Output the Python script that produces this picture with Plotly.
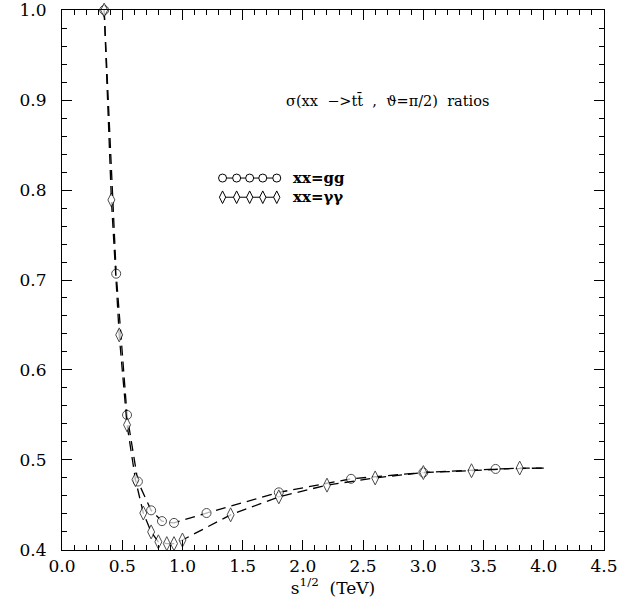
import plotly.graph_objects as go

# gg ratio curve (last point is line end, no marker)
gg_x = [0.35, 0.45, 0.54, 0.63, 0.74, 0.83, 0.93, 1.2, 1.8, 2.4, 3.0, 3.6, 4.0]
gg_y = [1.0, 0.707, 0.55, 0.476, 0.444, 0.432, 0.43, 0.441, 0.464, 0.479, 0.486, 0.490, 0.491]

# gamma-gamma ratio curve
gam_x = [0.35, 0.41, 0.475, 0.54, 0.61, 0.675, 0.74, 0.80, 0.87, 0.93, 1.0,
         1.4, 1.8, 2.2, 2.6, 3.0, 3.4, 3.8, 4.0]
gam_y = [1.0, 0.789, 0.639, 0.539, 0.478, 0.441, 0.42, 0.409, 0.407, 0.407, 0.411,
         0.439, 0.459, 0.472, 0.48, 0.486, 0.488, 0.491, 0.491]

x_ticks = [0.0, 0.5, 1.0, 1.5, 2.0, 2.5, 3.0, 3.5, 4.0, 4.5]
y_ticks = [0.4, 0.5, 0.6, 0.7, 0.8, 0.9, 1.0]

legend_names = ["xx=gg", "xx=γγ"]
title_text = "σ(xx\u00a0\u00a0−>tt\u0304\u00a0\u00a0,\u00a0\u00a0ϑ=π/2)\u00a0\u00a0ratios"

SERIF = "DejaVu Serif"

fig = go.Figure()

def msizes(n, s):
    return [s] * (n - 1) + [0]

fig.add_trace(go.Scatter(
    x=gg_x, y=gg_y, mode="lines+markers",
    line=dict(color="black", width=1.3, dash="10px,6px"),
    marker=dict(symbol="circle", size=msizes(len(gg_x), 9), color="white",
                line=dict(color="black", width=1)),
    showlegend=False, cliponaxis=False, hoverinfo="skip"))

fig.add_trace(go.Scatter(
    x=gam_x, y=gam_y, mode="lines+markers",
    line=dict(color="black", width=1.3, dash="10px,6px"),
    marker=dict(symbol="diamond-tall", size=msizes(len(gam_x), 10), color="white",
                line=dict(color="black", width=1)),
    showlegend=False, cliponaxis=False, hoverinfo="skip"))

# legend samples
leg_x = [1.333, 1.45, 1.558, 1.667, 1.783]
for yy, sym, sz, name in [(0.8133, "circle", 8, legend_names[0]),
                          (0.792, "diamond-tall", 9, legend_names[1])]:
    fig.add_trace(go.Scatter(
        x=leg_x, y=[yy] * len(leg_x), mode="lines+markers",
        line=dict(color="black", width=1),
        marker=dict(symbol=sym, size=sz, color="white", line=dict(color="black", width=1)),
        showlegend=False, hoverinfo="skip"))
    fig.add_annotation(x=1.9, y=yy, text="<b>" + name + "</b>", showarrow=False,
                       xanchor="left", yanchor="middle",
                       font=dict(family=SERIF, size=15, color="black"))

fig.add_annotation(x=1.84, y=0.9, text=title_text, showarrow=False,
                   xanchor="left", yanchor="middle",
                   font=dict(family=SERIF, size=14.5, color="black"))

axis_common = dict(
    showline=True, linecolor="black", linewidth=1.2, mirror="allticks",
    ticks="inside", ticklen=10, tickwidth=1, tickcolor="black",
    showgrid=False, zeroline=False, automargin=False,
    tickfont=dict(family=SERIF, size=17, color="black"),
)

fig.update_xaxes(range=[0, 4.5], tickvals=x_ticks,
                 ticktext=[f"{v:.1f}" for v in x_ticks],
                 minor=dict(dtick=0.1, ticks="inside", ticklen=5, tickcolor="black", showgrid=False),
                 title=dict(text="s<sup>1/2</sup>\u00a0\u00a0(TeV)", standoff=0,
                            font=dict(family=SERIF, size=17, color="black")),
                 **axis_common)
fig.update_yaxes(range=[0.3999, 1.0001], tickvals=y_ticks,
                 ticktext=[f"{v:.1f}" for v in y_ticks],
                 ticklabelstandoff=11,
                 minor=dict(dtick=0.02, ticks="inside", ticklen=5, tickcolor="black", showgrid=False),
                 **axis_common)

fig.update_layout(
    width=618, height=605,
    margin=dict(l=62, r=14, t=10, b=55),
    plot_bgcolor="white", paper_bgcolor="white",
)

# remove the page body's default margin so the figure fills the window
fig.write_html("out.html", config={"displayModeBar": False},
               post_script="document.body.style.margin='0';document.body.style.overflow='hidden';")
